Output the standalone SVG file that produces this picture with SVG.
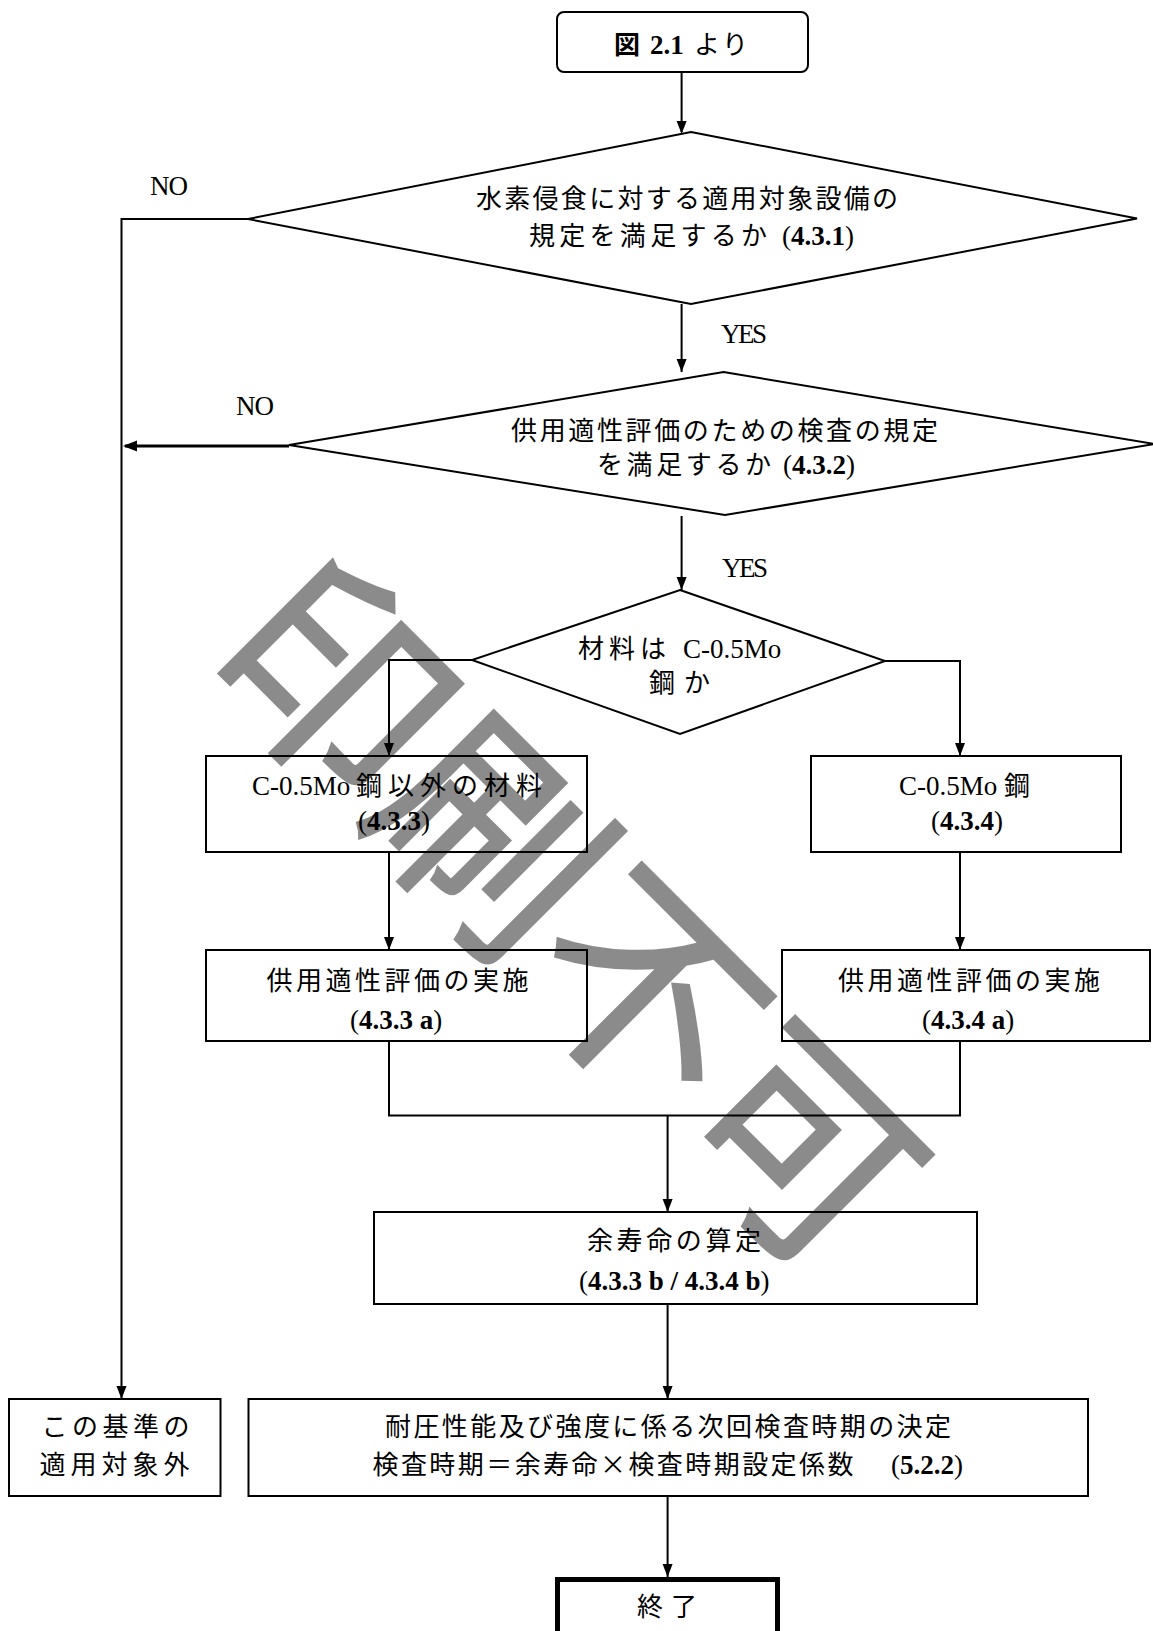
<svg xmlns="http://www.w3.org/2000/svg" width="1153" height="1631" viewBox="0 0 1153 1631">
<style>
.s{fill:none;stroke:#000;stroke-width:2}
.c{fill:none;stroke:#000;stroke-width:2}
.j{font-family:"Noto Sans CJK JP",sans-serif;font-size:26px;fill:#000}
.r{font-family:"Liberation Serif",serif;font-size:27px;fill:#000}
.b{font-weight:bold}
.l{font-family:"Liberation Serif",serif;font-size:27px;fill:#000}
</style>
<g id="connectors">
<line class="c" x1="681.6" y1="72" x2="681.6" y2="132"/>
<polyline class="c" points="248,219 121.5,219 121.5,1399"/>
<line class="c" x1="681.6" y1="304" x2="681.6" y2="372"/>
<line x1="289" y1="446" x2="125" y2="446" stroke="#000" stroke-width="3"/>
<line class="c" x1="681.6" y1="516" x2="681.6" y2="590"/>
<polyline class="c" points="472,660 389,660 389,756"/>
<polyline class="c" points="885,661 960,661 960,756"/>
<line class="c" x1="389" y1="852" x2="389" y2="950"/>
<line class="c" x1="960" y1="852" x2="960" y2="950"/>
<polyline class="c" points="389,1041 389,1115.5 960,1115.5 960,1041"/>
<line class="c" x1="667.6" y1="1115.5" x2="667.6" y2="1212"/>
<line class="c" x1="667.6" y1="1304" x2="667.6" y2="1399"/>
<line class="c" x1="667.6" y1="1496" x2="667.6" y2="1577"/>
<g id="arrowheads" fill="#000">
<path d="M676.6,121 L681.6,134 L686.6,121 Z"/>
<path d="M116.5,1386 L121.5,1399 L126.5,1386 Z"/>
<path d="M676.6,359 L681.6,372 L686.6,359 Z"/>
<path d="M137,440.5 L123,446 L137,451.5 Z"/>
<path d="M676.6,577 L681.6,590 L686.6,577 Z"/>
<path d="M384,743 L389,756 L394,743 Z"/>
<path d="M955,743 L960,756 L965,743 Z"/>
<path d="M384,937 L389,950 L394,937 Z"/>
<path d="M955,937 L960,950 L965,937 Z"/>
<path d="M662.6,1199 L667.6,1212 L672.6,1199 Z"/>
<path d="M662.6,1386 L667.6,1399 L672.6,1386 Z"/>
<path d="M662.6,1564 L667.6,1577 L672.6,1564 Z"/>
</g>
</g>
<g id="labels">
<text class="l" x="150" y="195" letter-spacing="-1">NO</text>
<text class="l" x="236" y="415" letter-spacing="-1">NO</text>
<text class="l" x="721" y="343" letter-spacing="-2.5">YES</text>
<text class="l" x="722" y="577" letter-spacing="-2.5">YES</text>
</g>
<g id="start">
<rect class="s" x="557" y="12" width="251" height="60" rx="7"/>
<text class="j b" x="614" y="54">図</text>
<text class="r b" x="650" y="54">2.1</text>
<text class="j" x="694" y="54" textLength="54" lengthAdjust="spacing">より</text>
</g>
<g id="d1">
<polygon class="s" points="691,132 1137,218.5 691,304 248,219"/>
<text class="j" x="476" y="208" textLength="422" lengthAdjust="spacing">水素侵食に対する適用対象設備の</text>
<text class="j" x="529" y="245" textLength="238" lengthAdjust="spacing">規定を満足するか</text>
<text class="r" x="782" y="245">(<tspan class="b">4.3.1</tspan>)</text>
</g>
<g id="d2">
<polygon class="s" points="723.5,372 1154,444 725,515 289,445"/>
<text class="j" x="511" y="440" textLength="427" lengthAdjust="spacing">供用適性評価のための検査の規定</text>
<text class="j" x="597" y="474" textLength="174" lengthAdjust="spacing">を満足するか</text>
<text class="r" x="783" y="474">(<tspan class="b">4.3.2</tspan>)</text>
</g>
<g id="d3">
<polygon class="s" points="680,590 885,661 680,734 472,660"/>
<text class="j" x="578" y="658" textLength="88" lengthAdjust="spacing">材料は</text>
<text class="r" x="683" y="658">C-0.5Mo</text>
<text class="j" x="649" y="692" textLength="61" lengthAdjust="spacing">鋼か</text>
</g>
<g id="b1">
<rect class="s" x="206" y="756" width="381" height="96"/>
<text class="r" x="252" y="795">C-0.5Mo</text>
<text class="j" x="356" y="795" textLength="186" lengthAdjust="spacing">鋼以外の材料</text>
<text class="r" x="358" y="830">(<tspan class="b">4.3.3</tspan>)</text>
</g>
<g id="b2">
<rect class="s" x="811" y="756" width="310" height="96"/>
<text class="r" x="899" y="795">C-0.5Mo</text>
<text class="j" x="1004" y="795">鋼</text>
<text class="r" x="931" y="830">(<tspan class="b">4.3.4</tspan>)</text>
</g>
<g id="b3">
<rect class="s" x="206" y="950" width="381" height="91"/>
<text class="j" x="266.5" y="990" textLength="262" lengthAdjust="spacing">供用適性評価の実施</text>
<text class="r" x="350" y="1029">(<tspan class="b">4.3.3 a</tspan>)</text>
</g>
<g id="b4">
<rect class="s" x="782" y="950" width="368" height="91"/>
<text class="j" x="838" y="990" textLength="262" lengthAdjust="spacing">供用適性評価の実施</text>
<text class="r" x="922" y="1029">(<tspan class="b">4.3.4 a</tspan>)</text>
</g>
<g id="b5">
<rect class="s" x="374" y="1212" width="603" height="92"/>
<text class="j" x="587" y="1250" textLength="174" lengthAdjust="spacing">余寿命の算定</text>
<text class="r" x="579" y="1290">(<tspan class="b">4.3.3 b / 4.3.4 b</tspan>)</text>
</g>
<g id="b6">
<rect class="s" x="248.5" y="1399" width="839.5" height="97"/>
<text class="j" x="385" y="1436" textLength="566" lengthAdjust="spacing">耐圧性能及び強度に係る次回検査時期の決定</text>
<text class="j" x="372.5" y="1474" textLength="481" lengthAdjust="spacing">検査時期＝余寿命×検査時期設定係数</text>
<text class="r" x="891" y="1474">(<tspan class="b">5.2.2</tspan>)</text>
</g>
<g id="out">
<rect class="s" x="9" y="1399" width="211.5" height="97"/>
<text class="j" x="41.5" y="1436" textLength="148" lengthAdjust="spacing">この基準の</text>
<text class="j" x="39.5" y="1474" textLength="150" lengthAdjust="spacing">適用対象外</text>
</g>
<g id="end">
<rect x="557.5" y="1579.5" width="220" height="60" fill="none" stroke="#000" stroke-width="5"/>
<text class="j" x="637" y="1616" textLength="60" lengthAdjust="spacing">終了</text>
</g>
<g id="watermark" opacity="0.45">
<text x="0" y="0" transform="translate(200,660) rotate(45)" font-family="Noto Sans CJK JP" font-size="220" fill="#000" stroke="#000" stroke-width="2.5">印刷不可</text>
</g>
</svg>
